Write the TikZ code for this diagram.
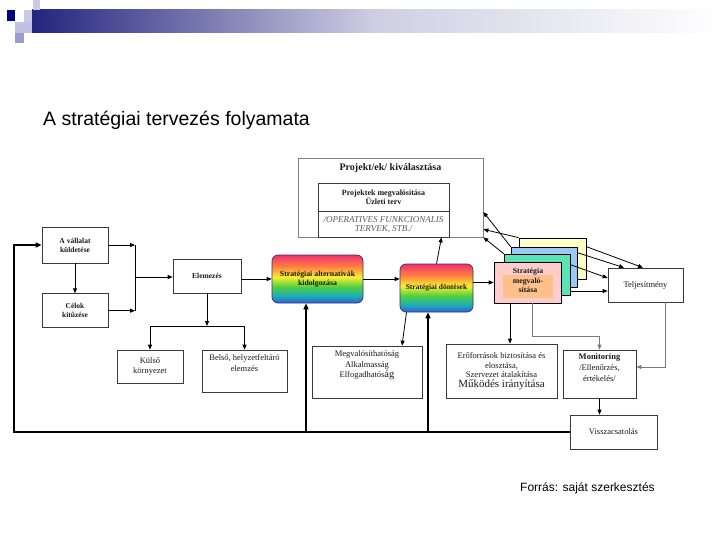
\documentclass[tikz,border=0pt]{standalone}
\usepackage{fontspec}
\setmainfont{Liberation Serif}
\newfontfamily\arialfont{Liberation Sans}
\usetikzlibrary{positioning, arrows.meta}
\definecolor{navyhead}{HTML}{24247F}
\definecolor{navysq}{HTML}{000080}
\definecolor{lavlight}{HTML}{CACAE8}
\definecolor{lavmid}{HTML}{9C9CCE}
\definecolor{boxline}{HTML}{3A3A3A}
\definecolor{projline}{HTML}{808080}
\definecolor{boxtext}{HTML}{1A1A1A}
\definecolor{optext}{HTML}{5A5A5A}
\definecolor{linegray}{HTML}{7A7A7A}
\definecolor{sheetyellow}{HTML}{FFFFC8}
\definecolor{sheetblue}{HTML}{9CC8F5}
\definecolor{sheetgreen}{HTML}{5BE3B5}
\definecolor{sheetpink}{HTML}{FFCCCC}
\definecolor{sheetorange}{HTML}{FFC08A}
\definecolor{rbblue}{HTML}{3060E0}
\definecolor{rbteal}{HTML}{20B0B0}
\definecolor{rbgreen}{HTML}{50D040}
\definecolor{rbyellow}{HTML}{F8F030}
\definecolor{rborange}{HTML}{FF8040}
\definecolor{rbred}{HTML}{F03070}
\definecolor{rbline}{HTML}{2B3A6A}
\pgfdeclareverticalshading{rainbow}{100bp}{color(0bp)=(rbblue); color(25bp)=(rbblue); color(33bp)=(rbteal); color(42bp)=(rbgreen); color(52bp)=(rbyellow); color(63bp)=(rborange); color(75bp)=(rbred); color(100bp)=(rbred)}
\tikzset{
	node distance=30pt and 30pt,
	every text node part/.style= {
		align=center
	},
	box/.style= {
		rectangle,
		draw=boxline,
		line width=0.7pt,
		fill=white,
		inner sep=1pt,
		text=boxtext,
		font=\fontsize{8.5}{9.5}\selectfont
	},
	boldbox/.style= {
		box,
		font=\fontsize{7.5}{9}\selectfont\bfseries
	},
	rainbow/.style= {
		rectangle,
		rounded corners=6pt,
		draw=rbline,
		line width=0.7pt,
		shading=rainbow,
		text=boxtext,
		font=\fontsize{7.8}{9.5}\selectfont\bfseries
	},
	sheet/.style= {
		rectangle,
		draw=black,
		line width=0.7pt,
		minimum width=66pt,
		minimum height=41pt
	},
	lbl/.style= {
		text=boxtext,
		inner sep=5pt,
		font=\fontsize{8.5}{10.5}\selectfont
	},
	arr/.style= {
		-{Triangle[length=5pt,width=4pt]},
		line width=0.8pt,
		black
	},
	grayarr/.style= {
		arr,
		draw=linegray
	},
	loopline/.style= {
		line width=2pt,
		black
	},
	looparr/.style= {
		loopline,
		-{Triangle[length=6pt,width=5pt]}
	}
}

\begin{document}
\begin{tikzpicture}[x=1pt, y=-1pt]
	\useasboundingbox (0,0) rectangle (720,540);
	
	% header bar and squares
	\shade[left color=navyhead, right color=white, middle color=navyhead!22] (32,10) rectangle (720,33);
	\fill[lavlight] (33,0) rectangle (40,10);
	\fill[navysq] (7,10) rectangle (15,21);
	\fill[lavlight] (24,10) rectangle (32,22);
	\fill[lavlight!80!lavmid] (15,22) rectangle (32,33);
	\fill[lavmid] (15,33) rectangle (24,43);
	
	\node (title)[anchor=west, inner sep=0pt, font=\arialfont\fontsize{19.5}{23}\selectfont] at (43,120) {A stratégiai tervezés folyamata};
	
	% left column
	\node (mission)[boldbox, minimum width=66pt, minimum height=36pt] at (75,245) {A vállalat\\küldetése};
	\node (goals)[boldbox, minimum width=66pt, minimum height=34pt, below=30pt of mission] {Célok\\kitűzése};
	\node (analysis)[boldbox, minimum width=68pt, minimum height=34pt] at (207,276) {Elemezés};
	\node (external)[box, minimum width=66pt, minimum height=33pt] at (150,366.5) {Külső\\környezet};
	\node (internal)[box, minimum width=85pt, minimum height=42pt, label={[lbl, anchor=north]north:{Belső, helyzetfeltáró\\elemzés}}] at (244.5,371) {};
	
	% strategy boxes
	\node (stratalt)[rainbow, minimum width=91pt, minimum height=48pt] at (317.5,279) {Stratégiai alternatívák\\kidolgozása};
	\node (decisions)[rainbow, minimum width=73pt, minimum height=48pt, font=\fontsize{7.5}{9}\selectfont\bfseries] at (436.5,288) {Stratégiai döntések};
	
	% project selection
	\node (projekt)[box, draw=projline, minimum width=185pt, minimum height=79pt] at (390.5,197.5) {};
	\node (projtitle)[text=boxtext, font=\fontsize{10}{12}\selectfont\bfseries] at (390.5,168) {Projekt/ek/ kiválasztása};
	\node (plan)[boldbox, minimum width=131pt, minimum height=28pt, font=\fontsize{8}{9}\selectfont\bfseries] at (383.5,197) {Projektek megvalósítása\\Üzleti terv};
	\node (opplans)[box, minimum width=131pt, minimum height=26pt, text=optext, font=\fontsize{9}{9.5}\selectfont\itshape, below=0pt of plan] {/OPERATIVES FUNKCIONALIS\\TERVEK, STB./};
	
	% implementation sheets
	\node (sheetY)[sheet, fill=sheetyellow, minimum width=67pt] at (552.5,258.5) {};
	\node (sheetB)[sheet, fill=sheetblue, minimum height=40pt] at (544,267) {};
	\node (sheetG)[sheet, fill=sheetgreen] at (537,274.5) {};
	\node (implement)[sheet, fill=sheetpink, minimum width=67pt] at (527.5,282.5) {};
	\node (implfill)[rectangle, fill=sheetorange, minimum width=50pt, minimum height=23pt, inner sep=0pt] at (528,286.5) {};
	\node (impltext)[text=boxtext, font=\fontsize{7.8}{9.5}\selectfont\bfseries] at (528,280.5) {Stratégia\\megvaló-\\sítása};
	
	\node (perf)[box, minimum width=75pt, minimum height=34pt] at (645.5,285) {Teljesítmény};
	
	% lower row
	\node (feasibility)[box, minimum width=110pt, minimum height=52pt, label={[lbl, anchor=north]north:{Megvalósíthatóság\\Alkalmasság\\Elfogadhatós{\fontsize{10.5}{10}\selectfont ág}}}] at (367,372) {};
	\node (resources)[box, minimum width=111pt, minimum height=54pt] at (501.5,371) {Erőforrások biztosítása és\\elosztása,\\Szervezet átalakítása\\{\fontsize{11}{12}\selectfont Működés irányítása}};
	\node (monitoring)[box, minimum width=73pt, minimum height=48pt, label={[lbl, anchor=north, inner sep=4pt, font=\fontsize{8.5}{11}\selectfont]north:{\textbf{Monitoring}\\/Ellenőrzés,\\értékelés/}}] at (599.5,374) {};
	\node (feedback)[box, minimum width=87pt, minimum height=34pt] at (613.5,432) {Visszacsatolás};
	
	\node (source)[anchor=west, inner sep=0pt, font=\arialfont\fontsize{12}{14}\selectfont] at (520,488) {Forrás: saját szerkesztés};
	
	% left connectors
	\coordinate (join) at (135,277);
	\draw[arr](mission) to (goals);
	\draw[arr](mission.east) -- (mission.east -| join);
	\draw[arr](goals.east) -- (goals.east -| join);
	\draw[line width=0.8pt](mission.east -| join) -- (goals.east -| join);
	\draw[arr](join) -- (join -| analysis.west);
	\draw[arr](stratalt.west -| analysis.east) -- (stratalt.west);
	
	\coordinate (split) at (analysis.south |- 0,326);
	\draw[arr](analysis.south) -- (split);
	\draw[line width=0.8pt](split -| external.north) -- (split -| internal.north);
	\draw[arr](split -| external.north) -- (external.north);
	\draw[arr](split -| internal.north) -- (internal.north);
	
	% strategy connectors
	\draw[arr](stratalt.east) -- (stratalt.east -| decisions.west);
	\path (decisions.north) ++(5,0) coordinate (dectop);
	\draw[arr](decisions.north) -- (dectop |- projekt.south);
	\draw[arr](implement.west -| decisions.east) -- (implement.west);
	\path (decisions.south) ++(-30,0) coordinate (decdown);
	\path (feasibility.north) ++(35,0) coordinate (feasup);
	\draw[arr](decdown) -- (feasup);
	
	% sheets to project box and performance
	\draw[arr](sheetB.north west) -- ([yshift=-14.5pt]projekt.east);
	\draw[arr](sheetY.north west) -- ([yshift=8pt]projekt.south east);
	\draw[arr](sheetG.north west) -- (projekt.south east);
	\draw[arr]([yshift=-9pt]sheetY.north east) -- ([xshift=-2.5pt]perf.north);
	\draw[arr]([yshift=-6pt]sheetB.north east) -- ([xshift=-21.5pt]perf.north);
	\draw[arr]([yshift=-11pt]sheetG.north east) -- ([yshift=7pt]perf.west);
	\coordinate (perfin) at ([yshift=-6pt]perf.west);
	\draw[arr](perfin -| sheetG.east) -- (perfin);
	
	% implementation to lower row
	\path (implement.south) ++(-17.5,0) coordinate (impldown) ++(22,0) coordinate (implgray);
	\draw[arr](impldown) -- (impldown |- resources.north);
	\draw[grayarr](implgray) -- ++(0,33) -| (monitoring.north);
	\path (perf.south) ++(20,0) coordinate (perfdown);
	\draw[grayarr](perfdown) |- ([yshift=7pt]monitoring.east);
	\draw[arr](monitoring.south) -- (monitoring.south |- feedback.north);
	
	% feedback loop
	\coordinate (loopcorner) at (14,432);
	\draw[looparr](feedback.west) -- (feedback.west -| loopcorner) |- (mission.west);
	\path (stratalt.south) ++(-11.5,0) coordinate (altup);
	\draw[looparr](altup |- loopcorner) -- (altup);
	\path (decisions.south) ++(-8.5,0) coordinate (decup);
	\draw[looparr](decup |- loopcorner) -- (decup);
	
\end{tikzpicture}
\end{document}
